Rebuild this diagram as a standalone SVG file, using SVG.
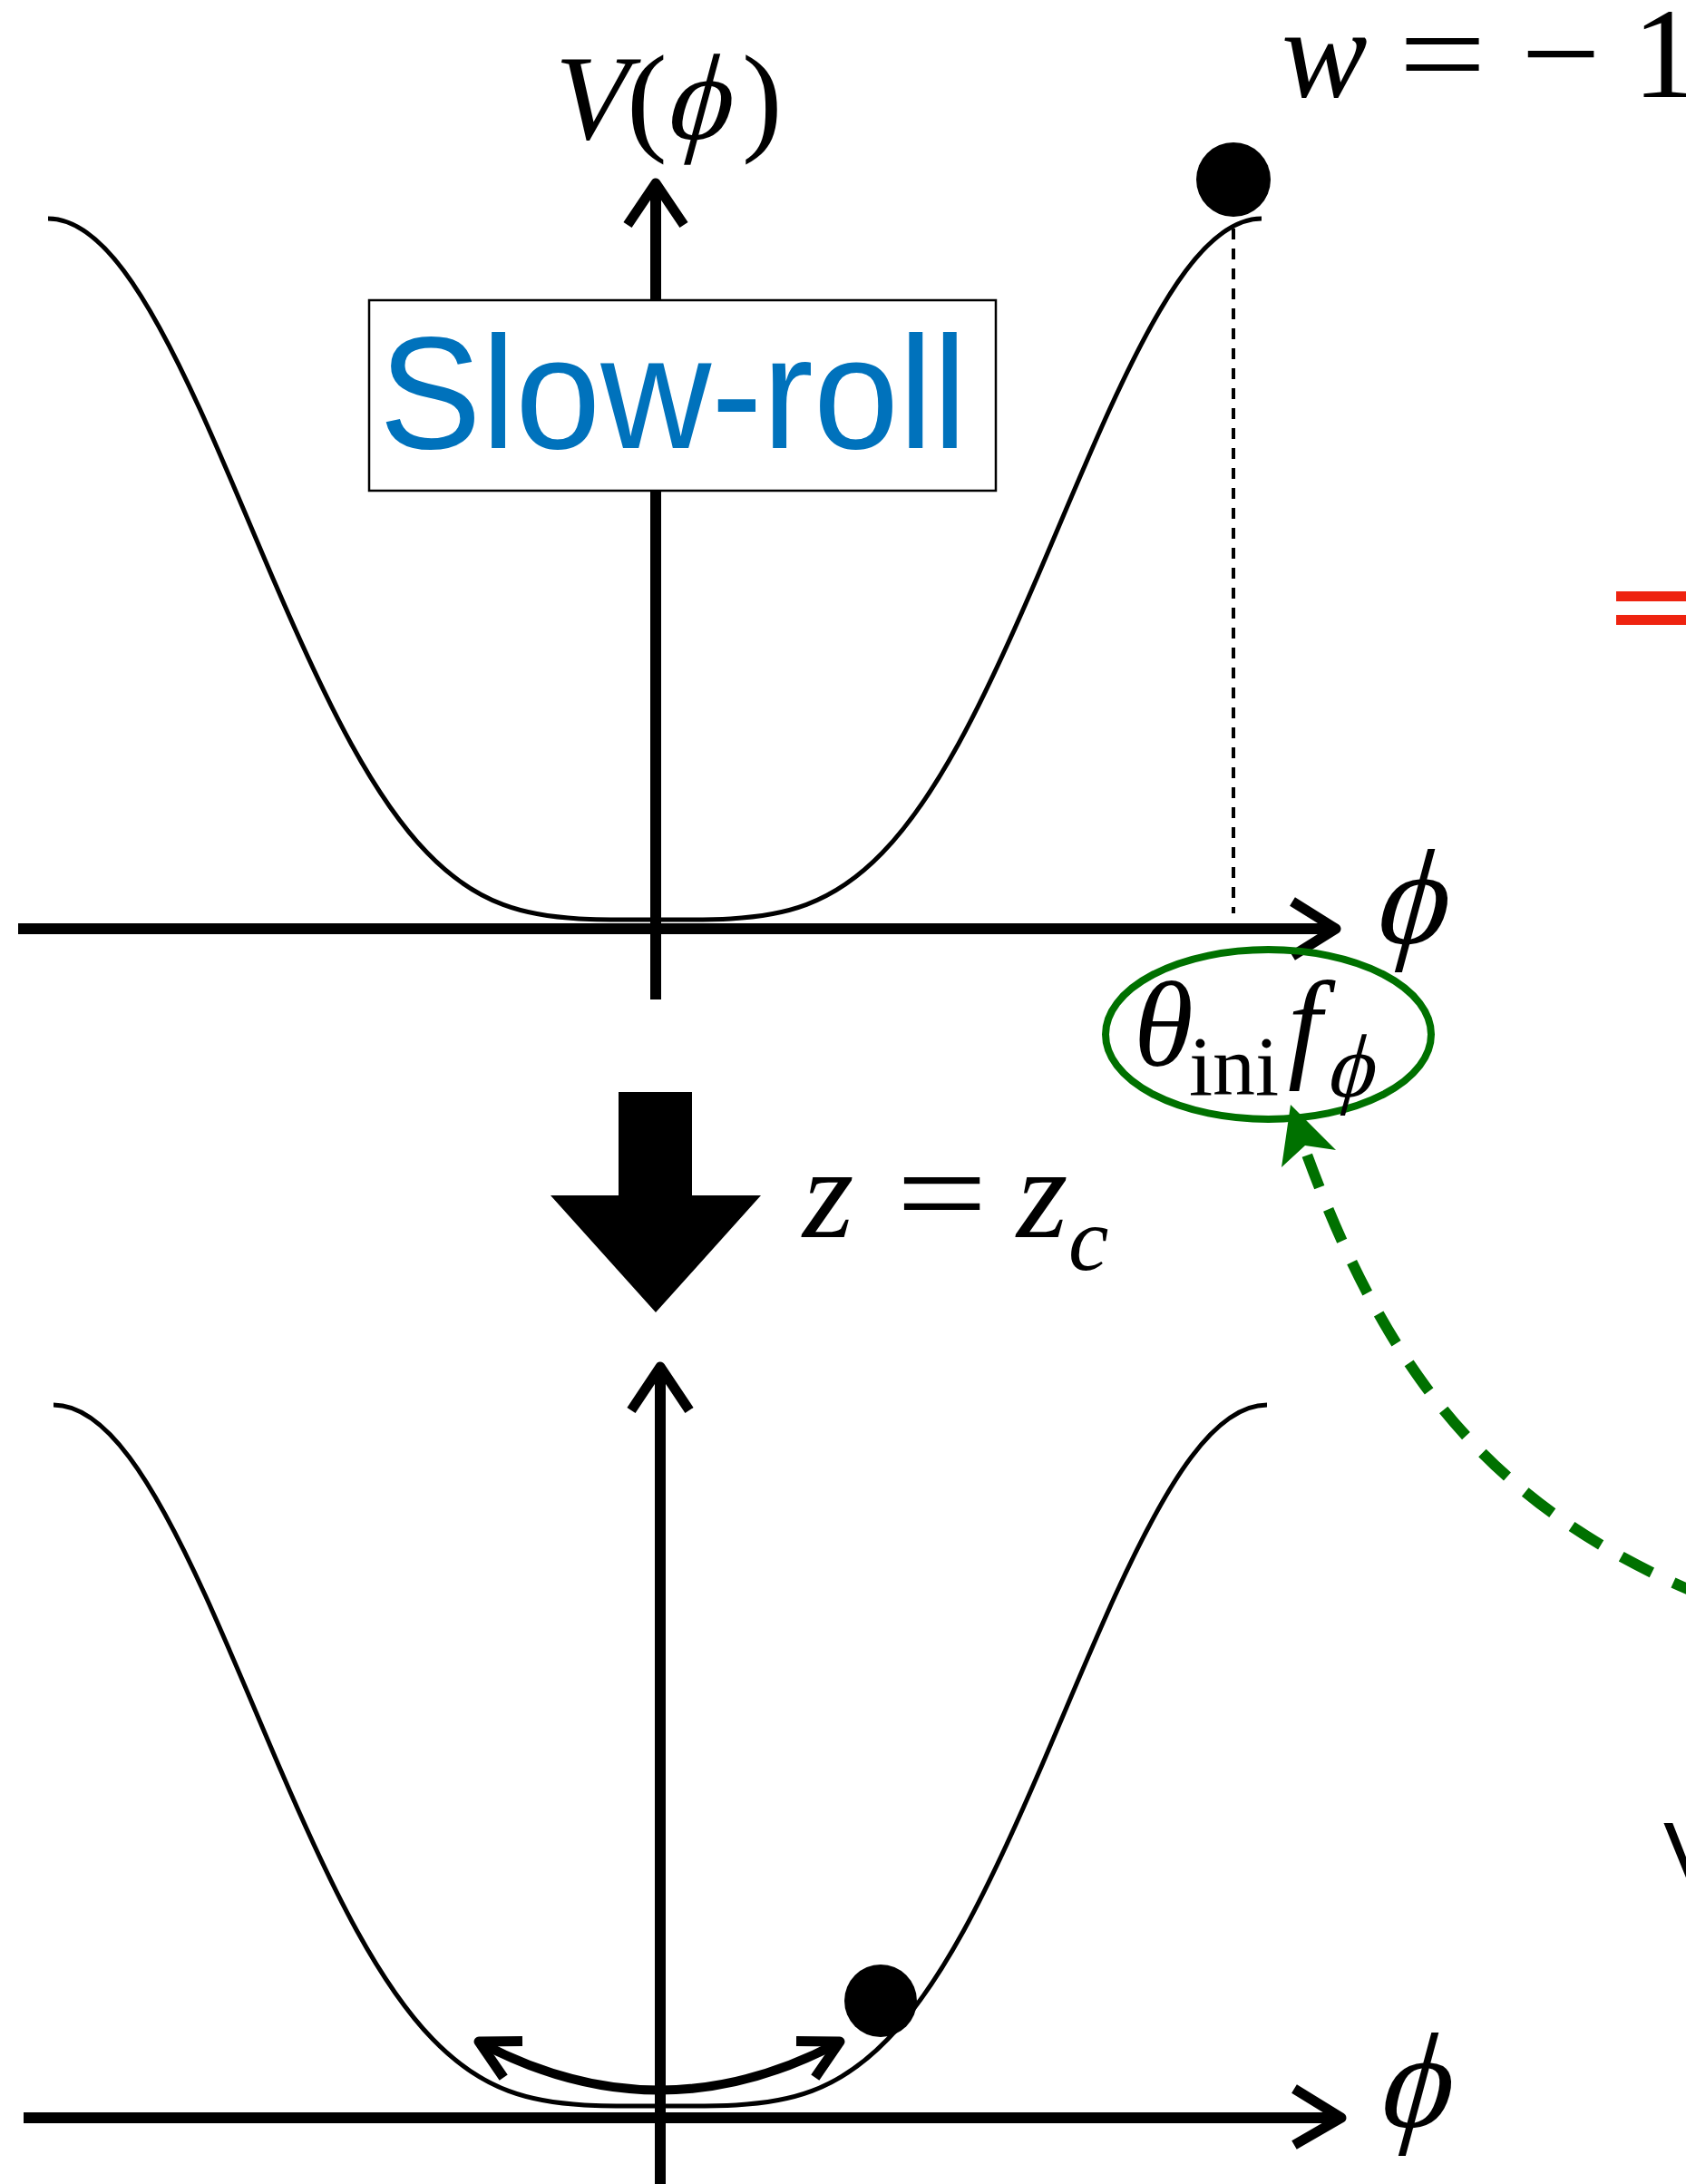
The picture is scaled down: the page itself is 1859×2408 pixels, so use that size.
<svg xmlns="http://www.w3.org/2000/svg" width="1859" height="2408" viewBox="0 0 1859 2408">
<style>
.curve{fill:none;stroke:#000;stroke-width:5}
.axis{fill:none;stroke:#000;stroke-width:12}
.head{fill:none;stroke:#000;stroke-width:11;stroke-linejoin:round;stroke-linecap:butt}
.math{font-family:"Liberation Serif","DejaVu Serif",serif;fill:#000}
.it{font-style:italic}
.rm{font-style:normal}
</style>
<defs>
<path id="well" d="M-669,-773 C-641.125,-773 -613.25,-752.526 -585.375,-715.28 C-557.5,-678.034 -529.625,-624.238 -501.75,-563.17 C-473.875,-502.102 -446,-434.085 -418.125,-369.46 C-390.25,-304.835 -362.375,-243.84 -334.5,-193.25 C-306.625,-142.66 -278.75,-102.493 -250.875,-73.64 C-223,-44.787 -195.125,-27.058 -167.25,-16.58 C-139.375,-6.102 -111.5,-2.594 -83.625,-1.12 C-55.75,0.354 -27.875,0 0,0 C27.875,0 55.75,0.354 83.625,-1.12 C111.5,-2.594 139.375,-6.102 167.25,-16.58 C195.125,-27.058 223,-44.787 250.875,-73.64 C278.75,-102.493 306.625,-142.66 334.5,-193.25 C362.375,-243.84 390.25,-304.835 418.125,-369.46 C446,-434.085 473.875,-502.102 501.75,-563.17 C529.625,-624.238 557.5,-678.034 585.375,-715.28 C613.25,-752.526 641.125,-773 669,-773"/>
</defs>
<rect width="1859" height="2408" fill="#fff"/>

<g id="top-panel">
  <use href="#well" class="curve" transform="translate(722,1014)"/>
  <line class="axis" x1="723" y1="206" x2="723" y2="1102"/>
  <polyline class="head" points="692,248 723,202 754,248"/>
  <line class="axis" x1="20" y1="1024" x2="1470" y2="1024"/>
  <polyline class="head" points="1425,994 1473,1024 1425,1054"/>
  <line x1="1360" y1="252" x2="1360" y2="1007" stroke="#000" stroke-width="4" stroke-dasharray="12 10"/>
  <text class="math" font-size="134"><tspan class="it" x="612" y="153">V</tspan><tspan class="rm" x="691" y="153">(</tspan><tspan class="rm" x="818" y="153">)</tspan></text>
  <g transform="translate(730,153) skewX(-15)"><text class="math" x="0" y="0" font-size="135">ϕ</text></g>
  <g transform="translate(1511,1040) skewX(-15)"><text class="math" x="0" y="0" font-size="150">ϕ</text></g>
</g>

<g id="slow-roll-label">
  <rect x="407" y="331" width="691" height="210" fill="#fff" stroke="#000" stroke-width="2.5"/>
  <text x="418" y="494" font-family="'Liberation Sans',Arial,sans-serif" font-size="176" fill="#0072BC" textLength="648" lengthAdjust="spacingAndGlyphs">Slow-roll</text>
</g>

<g id="ball-top">
  <circle cx="1360" cy="198" r="41" fill="#000"/>
</g>

<g id="w-label">
  <text class="math it" x="1413" y="107" font-size="142">w</text>
  <text class="math" x="1542" y="107" font-size="142" textLength="97" lengthAdjust="spacingAndGlyphs">=</text>
  <text class="math" x="1677" y="107" font-size="142" textLength="88" lengthAdjust="spacingAndGlyphs">−</text>
  <text class="math" x="1800" y="107" font-size="142">1</text>
</g>

<g id="red-arrow">
  <rect x="1782" y="652" width="77" height="11" fill="#EE2310"/>
  <rect x="1782" y="678" width="77" height="11" fill="#EE2310"/>
</g>

<g id="theta-ellipse">
  <ellipse cx="1398.5" cy="1140.5" rx="179.5" ry="93.5" fill="none" stroke="#007100" stroke-width="8"/>
  <text class="math" font-size="134"><tspan class="it" x="1250" y="1175">θ</tspan><tspan class="rm" x="1311" y="1207" font-size="94">ini</tspan><tspan class="it" x="1420" y="1175">f</tspan></text>
  <g transform="translate(1460,1209) skewX(-15)"><text class="math" x="0" y="0" font-size="99">ϕ</text></g>
</g>

<g id="transition-arrow">
  <polygon points="682,1204 763,1204 763,1318 839,1318 723,1447 607,1318 682,1318" fill="#000"/>
  <text class="math it" x="885" y="1364" font-size="145">z</text>
  <text class="math" x="988" y="1364" font-size="145" textLength="101" lengthAdjust="spacingAndGlyphs">=</text>
  <text class="math it" x="1121" y="1364" font-size="145">z</text>
  <text class="math it" x="1178" y="1400" font-size="100">c</text>
</g>

<g id="bottom-panel">
  <use href="#well" class="curve" transform="translate(728,2322)"/>
  <line class="axis" x1="728" y1="1510" x2="728" y2="2408"/>
  <polyline class="head" points="696,1555 728,1507 760,1555"/>
  <line class="axis" x1="26" y1="2335" x2="1476" y2="2335"/>
  <polyline class="head" points="1427,2303 1479,2335 1427,2365"/>
  <g transform="translate(1515,2345) skewX(-15)"><text class="math" x="0" y="0" font-size="150">ϕ</text></g>
</g>

<g id="ball-bottom">
  <circle cx="971" cy="2206" r="40" fill="#000"/>
</g>

<g id="right-partial">
  <text x="1834" y="2079" font-family="'Liberation Sans',Arial,sans-serif" font-size="100" fill="#000">V</text>
</g>

<g id="connectors">
  <path d="M531,2253 Q727,2356 923,2253" fill="none" stroke="#000" stroke-width="10"/>
  <polyline class="head" stroke-width="10" points="576,2250.6 528,2251 555.2,2290.6"/>
  <polyline class="head" stroke-width="10" points="878,2250.6 926,2251 898.8,2290.6"/>
  <path d="M1880,1760 C1639,1662 1525,1506 1437,1262" fill="none" stroke="#007100" stroke-width="12" stroke-dasharray="38 26"/>
  <polygon points="1423,1218 1473,1268 1439,1263 1413,1287" fill="#007100"/>
</g>
</svg>
